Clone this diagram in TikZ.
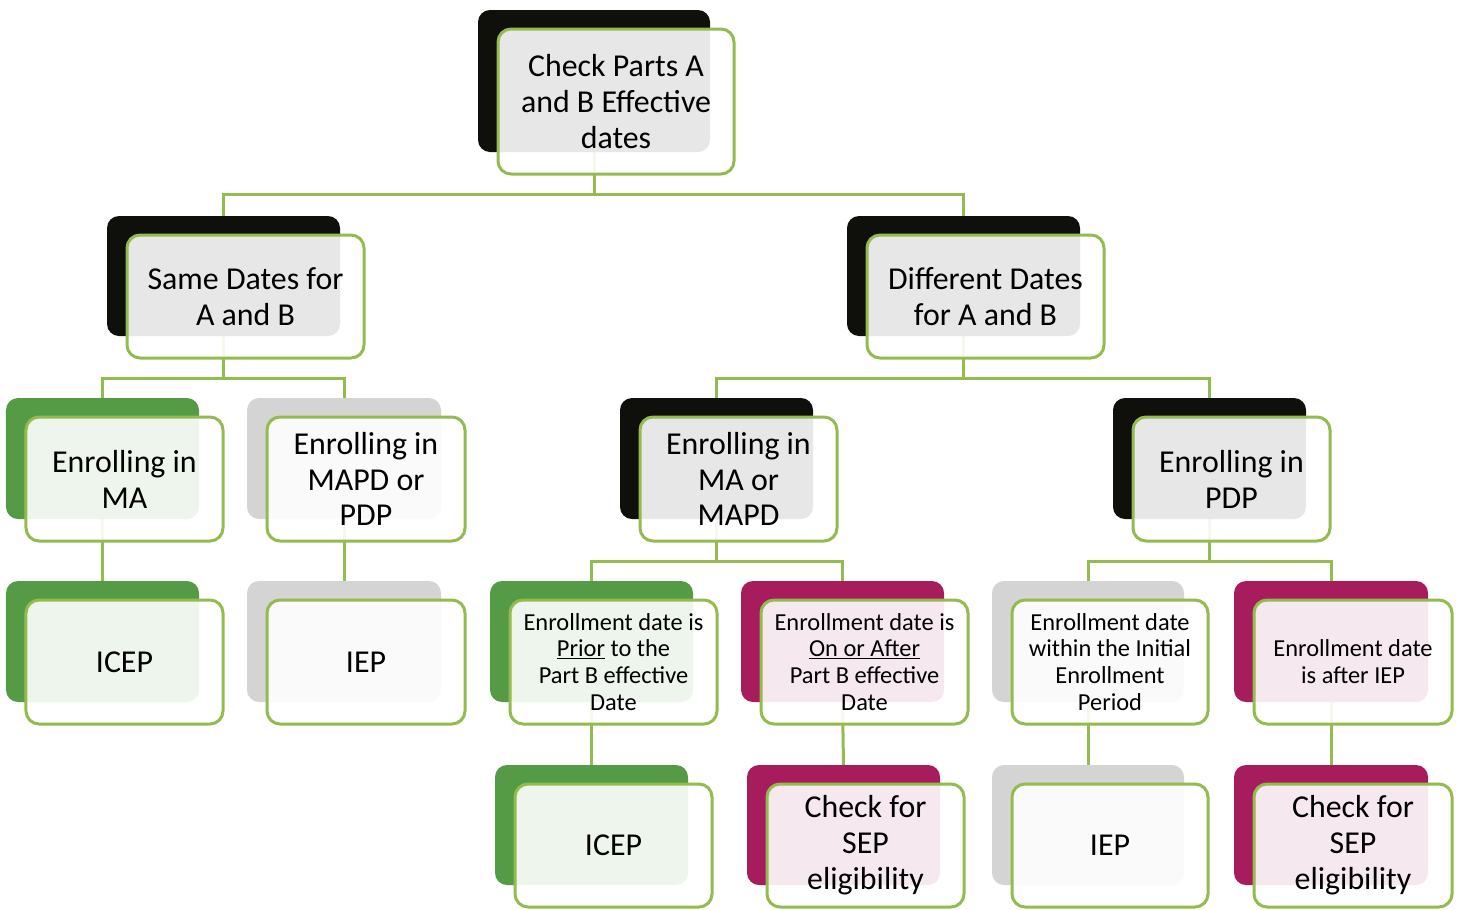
\documentclass[tikz,border=0pt]{standalone}
\usepackage{fontspec}
\setmainfont{Carlito}
\usetikzlibrary{backgrounds}
\definecolor{lg}{HTML}{94BB50}
\definecolor{blk}{HTML}{0F0F0C}
\definecolor{grn}{HTML}{559B46}
\definecolor{gry}{HTML}{D4D4D4}
\definecolor{mag}{HTML}{A71C5C}
\tikzset{
  backbox/.style={rounded corners=12bp, inner sep=0pt, draw=none},
  frontbox/.style={draw=lg, line width=3bp, fill=white, fill opacity=0.9, text opacity=1,
     rounded corners=13bp, align=center, inner sep=0pt, text=black},
  big/.style={font=\fontsize{32}{36}\selectfont},
  small/.style={font=\fontsize{24.5}{27}\selectfont},
  conn/.style={draw=lg, line width=3bp},
}
\newcommand\mkbox[8]{%
  \node[backbox, fill=#6, minimum width=#4bp, minimum height=#5bp] (#1b) at (#2,#3) {};
  \node[frontbox, #7, minimum width={#4bp+4bp}, minimum height={#5bp+3bp}] (#1) at (#2+22,#3+20.5) {#8};
}
\begin{document}
\begin{tikzpicture}[x=1bp,y=-1bp]
\useasboundingbox (0,0) rectangle (1463,909);
\mkbox{root}{594}{81}{232}{142}{blk}{big}{Check Parts A\\and B Effective\\dates}
\mkbox{same}{223.5}{276}{233}{120}{blk}{big}{Same Dates for\\A and B}
\mkbox{diff}{963.5}{276}{233}{120}{blk}{big}{Different Dates\\for A and B}
\mkbox{ma}{102.5}{458.5}{193}{121}{grn}{big}{Enrolling in\\MA}
\mkbox{mapdpdp}{344}{458.5}{194}{121}{gry}{big}{Enrolling in\\MAPD or\\PDP}
\mkbox{mamapd}{716.5}{458.5}{193}{121}{blk}{big}{Enrolling in\\MA or\\MAPD}
\mkbox{pdp}{1209.5}{458.5}{193}{121}{blk}{big}{Enrolling in\\PDP}
\mkbox{icepa}{102.5}{641.5}{193}{121}{grn}{big}{ICEP}
\mkbox{iepa}{344}{641.5}{194}{121}{gry}{big}{IEP}
\mkbox{prior}{591.5}{641.5}{203}{121}{grn}{small}{Enrollment date is\\\underline{Prior} to the\\Part B effective\\Date}
\mkbox{onafter}{842.5}{641.5}{203}{121}{mag}{small}{Enrollment date is\\\underline{On or After}\\Part B effective\\Date}
\mkbox{within}{1088}{641.5}{192}{121}{gry}{small}{Enrollment date\\within the Initial\\Enrollment\\Period}
\mkbox{afteriep}{1331}{641.5}{194}{121}{mag}{small}{Enrollment date\\is after IEP}
\mkbox{icepb}{591.5}{825}{193}{120}{grn}{big}{ICEP}
\mkbox{sepa}{843.5}{825}{193}{120}{mag}{big}{Check for\\SEP\\eligibility}
\mkbox{iepb}{1088}{825}{192}{120}{gry}{big}{IEP}
\mkbox{sepb}{1331}{825}{194}{120}{mag}{big}{Check for\\SEP\\eligibility}
\begin{scope}[on background layer]
  \draw[conn] (rootb.south) -- ++(0,42) -| (sameb.north);
  \draw[conn] (rootb.south) -- ++(0,42) -| (diffb.north);
  \draw[conn] (sameb.south) -- ++(0,42) -| (mab.north);
  \draw[conn] (sameb.south) -- ++(0,42) -| (mapdpdpb.north);
  \draw[conn] (diffb.south) -- ++(0,42) -| (mamapdb.north);
  \draw[conn] (diffb.south) -- ++(0,42) -| (pdpb.north);
  \draw[conn] (mab.south) -- (icepab.north);
  \draw[conn] (mapdpdpb.south) -- (iepab.north);
  \draw[conn] (mamapdb.south) -- ++(0,42) -| (priorb.north);
  \draw[conn] (mamapdb.south) -- ++(0,42) -| (onafterb.north);
  \draw[conn] (pdpb.south) -- ++(0,42) -| (withinb.north);
  \draw[conn] (pdpb.south) -- ++(0,42) -| (afteriepb.north);
  \draw[conn] (priorb.south) -- (icepbb.north);
  \draw[conn] (onafterb.south) -- (sepab.north);
  \draw[conn] (withinb.south) -- (iepbb.north);
  \draw[conn] (afteriepb.south) -- (sepbb.north);
\end{scope}
\end{tikzpicture}
\end{document}
